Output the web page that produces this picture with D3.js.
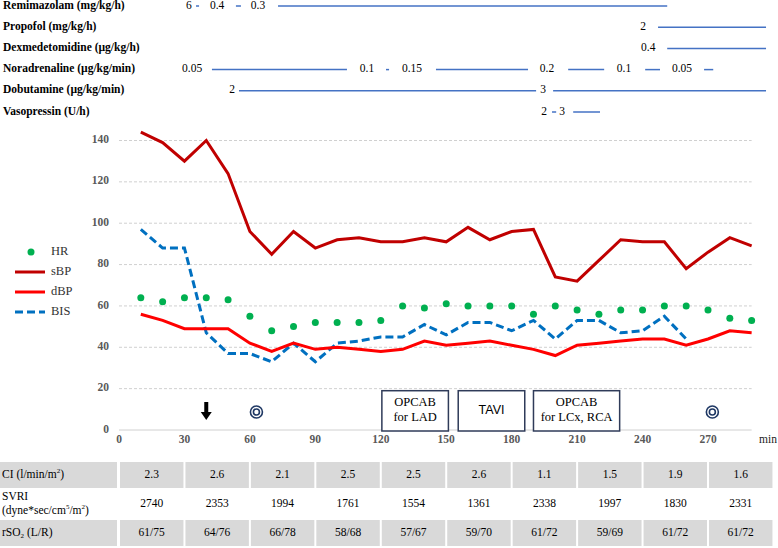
<!DOCTYPE html>
<html>
<head>
<meta charset="utf-8">
<script src="https://cdn.jsdelivr.net/npm/d3@7"></script>
<style>
  body { margin: 0; background: #fff; }
  svg { font-family: "Liberation Serif", "DejaVu Serif", serif; }
</style>
</head>
<body>
<svg id="chart" width="778" height="548"></svg>
<script>
// ---- data ----
var times = d3.range(10, 300, 10);
var sBP = [144, 139, 130, 140, 124, 96, 85, 96, 88, 92, 93, 91, 91, 93, 91, 98, 92, 96, 97, 74, 72, 82, 92, 91, 91, 78, 86, 93, 89];
var dBP = [56, 53, 49, 49, 49, 42, 38, 42, 39, 40, 39, 38, 39, 43, 41, 42, 43, 41, 39, 36, 41, 42, 43, 44, 44, 41, 44, 48, 47];
var HR  = [64, 62, 64, 64, 63, 55, 48, 50, 52, 52, 52, 53, 60, 59, 61, 60, 60, 60, 56, 60, 58, 56, 58, 58, 60, 60, 58, 54, 53];
var BIS = [97, 88, 88, 47, 37, 37, 33, 42, 33, 42, 43, 45, 45, 51, 46, 52, 52, 48, 53, 44, 53, 53, 47, 48, 55, 44];

var yTicks = [0, 20, 40, 60, 80, 100, 120, 140];
var xTicks = [0, 30, 60, 90, 120, 150, 180, 210, 240, 270];

var drugs = ["Remimazolam (mg/kg/h)", "Propofol (mg/kg/h)", "Dexmedetomidine (\u00b5g/kg/h)",
             "Noradrenaline (\u00b5g/kg/min)", "Dobutamine (\u00b5g/kg/min)", "Vasopressin (U/h)"];
// [drug row, time, dose]
var doseLabels = [
  [0, 32, "6"], [0, 45, "0.4"], [0, 63.7, "0.3"],
  [1, 240.3, "2"],
  [2, 242.6, "0.4"],
  [3, 33.5, "0.05"], [3, 113.7, "0.1"], [3, 134.3, "0.15"], [3, 196.2, "0.2"], [3, 231.5, "0.1"], [3, 258.1, "0.05"],
  [4, 51.8, "2"], [4, 194.4, "3"],
  [5, 194.9, "2"], [5, 203.1, "3"]
];
// [drug row, start, end]
var doseLines = [
  [0, 35.3, 36.7], [0, 53.6, 55.9], [0, 72.9, 251.3],
  [1, 247.1, 296.6],
  [2, 251.3, 296.6],
  [3, 42.6, 104.5], [3, 122.4, 123.8], [3, 145.3, 187.5], [3, 205.9, 222.4], [3, 241.2, 248], [3, 268.2, 272.4],
  [4, 55, 191.2], [4, 199, 296.6],
  [5, 198.5, 200.4], [5, 208.2, 220.5]
];

var procedures = [
  [120.5, 151, ["OPCAB", "for LAD"]],
  [155.5, 186, ["TAVI"]],
  [190, 229.5, ["OPCAB", "for LCx, RCA"]]
];
var arrowTime = 40;
var markTimes = [63, 272];

var CI   = ["2.3", "2.6", "2.1", "2.5", "2.5", "2.6", "1.1", "1.5", "1.9", "1.6"];
var SVRI = ["2740", "2353", "1994", "1761", "1554", "1361", "2338", "1997", "1830", "2331"];
var rSO2 = ["61/75", "64/76", "66/78", "58/68", "57/67", "59/70", "61/72", "59/69", "61/72", "61/72"];

var SERIF = "Liberation Serif, DejaVu Serif, serif";
var SANS = "Liberation Sans, Arial, sans-serif";

// ---- scales ----
var svg = d3.select("#chart");
var x = d3.scaleLinear().domain([0, 270]).range([119, 708]);
var y = d3.scaleLinear().domain([0, 140]).range([430, 140.5]);

// ---- drug rows ----
var rowY = d3.scalePoint().domain(d3.range(drugs.length)).range([6, 112]);

svg.selectAll(".drug").data(drugs).enter().append("text")
  .attr("x", 3).attr("y", (d, i) => rowY(i))
  .attr("dominant-baseline", "middle")
  .attr("font-size", 11.5).attr("font-weight", "bold")
  .text(d => d);

svg.selectAll(".dose").data(doseLabels).enter().append("text")
  .attr("x", d => x(d[1])).attr("y", d => rowY(d[0]))
  .attr("dominant-baseline", "middle").attr("text-anchor", "middle")
  .attr("font-size", 11.5)
  .text(d => d[2]);

svg.selectAll(".doseLine").data(doseLines).enter().append("line")
  .attr("x1", d => x(d[1])).attr("x2", d => x(d[2]))
  .attr("y1", d => rowY(d[0])).attr("y2", d => rowY(d[0]))
  .attr("stroke", "#4472c4").attr("stroke-width", 1.5);

// ---- grid + axes ----
svg.selectAll(".grid").data(yTicks).enter().append("line")
  .attr("x1", x(0)).attr("x2", x(290))
  .attr("y1", d => y(d)).attr("y2", d => y(d))
  .attr("stroke", "#d0d0d0").attr("stroke-width", 1)
  .attr("stroke-dasharray", d => d === 0 ? null : "3,2");

svg.selectAll(".ylab").data(yTicks).enter().append("text")
  .attr("x", 109).attr("y", d => y(d))
  .attr("dominant-baseline", "middle").attr("text-anchor", "end")
  .attr("font-size", 11.5).attr("font-weight", "bold").attr("fill", "#595959")
  .text(d => d);

svg.selectAll(".xlab").data(xTicks).enter().append("text")
  .attr("x", d => x(d)).attr("y", 440)
  .attr("dominant-baseline", "middle").attr("text-anchor", "middle")
  .attr("font-size", 11.5).attr("font-weight", "bold").attr("fill", "#595959")
  .text(d => d);

svg.append("text").attr("x", 759).attr("y", 440)
  .attr("dominant-baseline", "middle")
  .attr("font-size", 11.5).attr("fill", "#222")
  .text("min");

// ---- procedure boxes / markers ----
var box = svg.selectAll(".proc").data(procedures).enter().append("g");
box.append("rect")
  .attr("x", d => x(d[0])).attr("width", d => x(d[1]) - x(d[0]))
  .attr("y", y(19)).attr("height", y(0) - y(19) + 1)
  .attr("fill", "#fff").attr("stroke", "#2f3b59").attr("stroke-width", 1.5);
box.each(function(d) {
  var g = d3.select(this);
  var cx = (x(d[0]) + x(d[1])) / 2, cy = y(9.5);
  d[2].forEach(function(t, i) {
    g.append("text")
      .attr("x", cx).attr("y", cy + (i - (d[2].length - 1) / 2) * 15)
      .attr("dominant-baseline", "middle").attr("text-anchor", "middle")
      .attr("font-size", 12.5)
      .style("font-family", d[2].length === 1 ? SANS : SERIF)
      .text(t);
  });
});

var ax = x(arrowTime);
svg.append("rect").attr("x", ax - 2).attr("y", 402).attr("width", 4).attr("height", 12).attr("fill", "#000");
svg.append("path").attr("d", "M" + (ax - 5.5) + ",412 L" + (ax + 5.5) + ",412 L" + ax + ",420 Z").attr("fill", "#000");

markTimes.forEach(function(t) {
  svg.append("circle").attr("cx", x(t)).attr("cy", 412).attr("r", 6)
    .attr("fill", "none").attr("stroke", "#1f3864").attr("stroke-width", 1.6);
  svg.append("circle").attr("cx", x(t)).attr("cy", 412).attr("r", 3)
    .attr("fill", "none").attr("stroke", "#1f3864").attr("stroke-width", 1.6);
});

// ---- series ----
var line = d3.line().x((d, i) => x(times[i])).y(d => y(d));

svg.append("path").datum(BIS).attr("d", line)
  .attr("fill", "none").attr("stroke", "#0070c0").attr("stroke-width", 3)
  .attr("stroke-dasharray", "8,4");
svg.append("path").datum(dBP).attr("d", line)
  .attr("fill", "none").attr("stroke", "#ff0000").attr("stroke-width", 3);
svg.append("path").datum(sBP).attr("d", line)
  .attr("fill", "none").attr("stroke", "#c00000").attr("stroke-width", 3);
svg.selectAll(".hr").data(HR).enter().append("circle")
  .attr("cx", (d, i) => x(times[i])).attr("cy", d => y(d)).attr("r", 3.5)
  .attr("fill", "#00b050");

// ---- legend ----
var leg = [
  ["HR", "dot", "#00b050"], ["sBP", "line", "#c00000"],
  ["dBP", "line", "#ff0000"], ["BIS", "dash", "#0070c0"]
];
var legY = d3.scalePoint().domain(d3.range(leg.length)).range([252, 312]);
leg.forEach(function(d, i) {
  if (d[1] === "dot") {
    svg.append("circle").attr("cx", 31).attr("cy", legY(i)).attr("r", 3.5).attr("fill", d[2]);
  } else {
    svg.append("line").attr("x1", 15).attr("x2", 45).attr("y1", legY(i)).attr("y2", legY(i))
      .attr("stroke", d[2]).attr("stroke-width", 3)
      .attr("stroke-dasharray", d[1] === "dash" ? "8,4" : null);
  }
  svg.append("text").attr("x", 51).attr("y", legY(i))
    .attr("dominant-baseline", "middle").attr("font-size", 12.5).attr("fill", "#333")
    .text(d[0]);
});

// ---- table ----
var rows = [CI, SVRI, rSO2];
var rowTop = [461, 489, 519], rowBot = [489, 519, 547];
var colEdges = d3.range(0, 301, 30).map(d => x(d));

rows.forEach(function(vals, r) {
  var fill = r === 1 ? "#ffffff" : "#d9d9d9";
  svg.append("rect").attr("x", 0).attr("y", rowTop[r] + 1)
    .attr("width", colEdges[0] - 2).attr("height", rowBot[r] - rowTop[r] - 2).attr("fill", fill);
  svg.selectAll(".cell" + r).data(vals).enter().append("rect")
    .attr("x", (d, i) => colEdges[i] + 1).attr("y", rowTop[r] + 1)
    .attr("width", (d, i) => colEdges[i + 1] - colEdges[i] - 2)
    .attr("height", rowBot[r] - rowTop[r] - 2).attr("fill", fill);
  svg.selectAll(".val" + r).data(vals).enter().append("text")
    .attr("x", (d, i) => (colEdges[i] + colEdges[i + 1]) / 2)
    .attr("y", (rowTop[r] + rowBot[r]) / 2)
    .attr("dominant-baseline", "middle").attr("text-anchor", "middle")
    .attr("font-size", 11.5).text(d => d);
});

// row headers
var t1 = svg.append("text").attr("x", 2).attr("y", 475).attr("dominant-baseline", "middle").attr("font-size", 11.5);
t1.append("tspan").text("CI (l/min/m");
t1.append("tspan").attr("font-size", 7).attr("dy", -4).text("2");
t1.append("tspan").attr("dy", 4).text(")");

svg.append("text").attr("x", 2).attr("y", 497).attr("dominant-baseline", "middle").attr("font-size", 11.5).text("SVRI");
var t2 = svg.append("text").attr("x", 2).attr("y", 511).attr("dominant-baseline", "middle").attr("font-size", 11.5);
t2.append("tspan").text("(dyne*sec/cm");
t2.append("tspan").attr("font-size", 7).attr("dy", -4).text("5");
t2.append("tspan").attr("dy", 4).text("/m");
t2.append("tspan").attr("font-size", 7).attr("dy", -4).text("2");
t2.append("tspan").attr("dy", 4).text(")");

var t3 = svg.append("text").attr("x", 2).attr("y", 533).attr("dominant-baseline", "middle").attr("font-size", 11.5);
t3.append("tspan").text("rSO");
t3.append("tspan").attr("font-size", 7).attr("dy", 3).text("2");
t3.append("tspan").attr("dy", -3).text(" (L/R)");
</script>
</body>
</html>
